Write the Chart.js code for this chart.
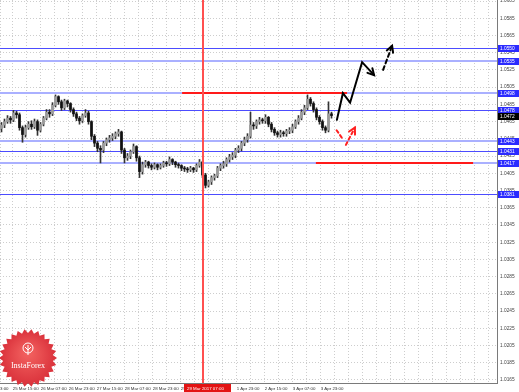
<!DOCTYPE html>
<html>
<head>
<meta charset="utf-8">
<script src="https://cdn.jsdelivr.net/npm/chart.js@4/dist/chart.umd.min.js"></script>
<style>
  html, body { margin: 0; padding: 0; background: #fff; }
</style>
</head>
<body>
<canvas id="grafico-velas" width="519" height="392"></canvas>
<script>
// Velas horarias (una por barra)
const aperturas = [
  1.0457,1.0461,1.0465,1.0469,1.0467,1.0475,1.0473,1.0458,1.0450,1.0458,
  1.0462,1.0459,1.0465,1.0455,1.0462,1.0469,1.0476,1.0474,1.0484,1.0494,
  1.0488,1.0481,1.0489,1.0486,1.0479,1.0474,1.0469,1.0466,1.0472,1.0475,
  1.0465,1.0448,1.0440,1.0434,1.0432,1.0440,1.0444,1.0446,1.0448,1.0451,
  1.0453,1.0432,1.0423,1.0425,1.0430,1.0436,1.0423,1.0407,1.0415,1.0418,
  1.0414,1.0412,1.0415,1.0412,1.0414,1.0417,1.0416,1.0421,1.0418,1.0415,
  1.0414,1.0411,1.0410,1.0409,1.0411,1.0409,1.0414,1.0418,1.0403,1.0391,
  1.0395,1.0400,1.0402,1.0411,1.0414,1.0416,1.0421,1.0424,1.0426,1.0432,
  1.0434,1.0440,1.0444,1.0448,1.0461,1.0460,1.0465,1.0467,1.0466,1.0470,
  1.0462,1.0456,1.0452,1.0450,1.0452,1.0451,1.0454,1.0455,1.0459,1.0465,
  1.0469,1.0476,1.0481,1.0491,1.0486,1.0479,1.0470,1.0465,1.0458,1.0455,
  1.0474
];
const maximos = [
  1.0464,1.0468,1.0472,1.0471,1.0478,1.0477,1.0475,1.0460,1.0461,1.0465,
  1.0466,1.0468,1.0467,1.0464,1.0471,1.0479,1.0479,1.0487,1.0496,1.0495,
  1.0490,1.0491,1.0490,1.0487,1.0481,1.0476,1.0471,1.0474,1.0479,1.0477,
  1.0466,1.0450,1.0442,1.0437,1.0442,1.0446,1.0449,1.0451,1.0453,1.0456,
  1.0454,1.0434,1.0428,1.0432,1.0439,1.0437,1.0425,1.0418,1.0420,1.0419,
  1.0416,1.0417,1.0416,1.0416,1.0419,1.0419,1.0424,1.0422,1.0419,1.0417,
  1.0415,1.0413,1.0412,1.0413,1.0412,1.0416,1.0421,1.0419,1.0405,1.0397,
  1.0402,1.0404,1.0413,1.0416,1.0419,1.0423,1.0427,1.0429,1.0434,1.0437,
  1.0442,1.0447,1.0451,1.0476,1.0464,1.0467,1.0470,1.0469,1.0473,1.0471,
  1.0464,1.0458,1.0454,1.0455,1.0454,1.0456,1.0458,1.0462,1.0467,1.0472,
  1.0479,1.0484,1.0496,1.0493,1.0488,1.0481,1.0472,1.0467,1.0460,1.0488,
  1.0476
];
const minimos = [
  1.0453,1.0458,1.0463,1.0463,1.0465,1.0469,1.0455,1.0441,1.0447,1.0456,
  1.0456,1.0457,1.0449,1.0453,1.0460,1.0467,1.0470,1.0472,1.0482,1.0485,
  1.0478,1.0479,1.0482,1.0476,1.0471,1.0466,1.0462,1.0464,1.0470,1.0462,
  1.0444,1.0436,1.0430,1.0417,1.0429,1.0437,1.0441,1.0443,1.0445,1.0448,
  1.0428,1.0417,1.0420,1.0422,1.0428,1.0419,1.0400,1.0404,1.0412,1.0411,
  1.0409,1.0410,1.0409,1.0410,1.0412,1.0413,1.0414,1.0415,1.0412,1.0411,
  1.0408,1.0407,1.0406,1.0407,1.0406,1.0407,1.0412,1.0400,1.0388,1.0389,
  1.0392,1.0397,1.0400,1.0408,1.0411,1.0413,1.0418,1.0421,1.0423,1.0429,
  1.0431,1.0437,1.0441,1.0446,1.0456,1.0457,1.0462,1.0463,1.0463,1.0459,
  1.0453,1.0449,1.0447,1.0447,1.0448,1.0448,1.0451,1.0452,1.0457,1.0462,
  1.0467,1.0473,1.0479,1.0483,1.0476,1.0467,1.0462,1.0455,1.0452,1.0453,
  1.0469
];
const cierres = [
  1.0461,1.0465,1.0469,1.0467,1.0475,1.0473,1.0458,1.0450,1.0458,1.0462,
  1.0459,1.0465,1.0455,1.0462,1.0469,1.0476,1.0474,1.0484,1.0494,1.0488,
  1.0481,1.0489,1.0486,1.0479,1.0474,1.0469,1.0466,1.0472,1.0475,1.0465,
  1.0448,1.0440,1.0434,1.0432,1.0440,1.0444,1.0446,1.0448,1.0451,1.0453,
  1.0432,1.0423,1.0425,1.0430,1.0436,1.0423,1.0407,1.0415,1.0418,1.0414,
  1.0412,1.0415,1.0412,1.0414,1.0417,1.0416,1.0421,1.0418,1.0415,1.0414,
  1.0411,1.0410,1.0409,1.0411,1.0409,1.0414,1.0418,1.0403,1.0391,1.0395,
  1.0400,1.0402,1.0411,1.0414,1.0416,1.0421,1.0424,1.0426,1.0432,1.0434,
  1.0440,1.0444,1.0448,1.0461,1.0460,1.0465,1.0467,1.0466,1.0470,1.0462,
  1.0456,1.0452,1.0450,1.0452,1.0451,1.0454,1.0455,1.0459,1.0465,1.0469,
  1.0476,1.0481,1.0491,1.0486,1.0479,1.0470,1.0465,1.0458,1.0455,1.0474,
  1.0472
];

// Etiquetas de los ejes
const etiquetaBorde = "3:00";
const etiquetasTiempo = [
  "25 Mar 15:00", "26 Mar 07:00", "26 Mar 23:00", "27 Mar 15:00",
  "28 Mar 07:00", "28 Mar 23:00", "29 Mar 15:00", "", "1 Apr 23:00",
  "2 Apr 15:00", "3 Apr 07:00", "3 Apr 23:00",
];
const marcasPrecio = [
  1.0165, 1.0185, 1.0205, 1.0225, 1.0245, 1.0265, 1.0285, 1.0305,
  1.0325, 1.0345, 1.0365, 1.0385, 1.0405, 1.0425, 1.0445, 1.0465,
  1.0485, 1.0505, 1.0525, 1.0545, 1.0565, 1.0585, 1.0605,
];

// Niveles horizontales (azules) y marcas del análisis
const niveles = [1.0550, 1.0535, 1.0498, 1.0478, 1.0443, 1.0431, 1.0417, 1.0381];
const nivelGrueso = [false, true, true, false, true, false, true, false];
const resistencia = [1.0498, 60.2, 115.2]; // precio, barra inicial, barra final
const soporte = [1.0417, 104.8, 157.2];
const barraVertical = 67.2;
const fechaVertical = "29 Mar 2017 07:00";
const flechaNegra = [[111.8, 1.0467], [113.8, 1.0498], [116.2, 1.0487], [120.2, 1.0534], [124.2, 1.0519]];
const flechaNegraPunteada = [[127.2, 1.0525], [130.2, 1.0553]];
const rojaPunteada1 = [[111.7, 1.0455], [113.9, 1.0444]];
const rojaPunteada2 = [[114.8, 1.0438], [117.8, 1.0458]];

const X_MIN = -0.5;
const X_MAX = 165.17;
const PASO_REJILLA = 14 / 3;
const PRIMERA_MARCA = 3.733;

const fuente = { family: "Liberation Sans", size: 4.4 };
const fuentePrecio = { family: "Liberation Sans", size: 4.8 };

// Dibuja una polilínea con punta de flecha opcional
const trazarFlecha = (ctx, puntos, color, guiones, conPunta) => {
  ctx.save();
  ctx.strokeStyle = color;
  ctx.lineWidth = 2;
  ctx.lineCap = "round";
  ctx.setLineDash(guiones);
  ctx.beginPath();
  puntos.forEach(([x, y], i) => (i ? ctx.lineTo(x, y) : ctx.moveTo(x, y)));
  ctx.stroke();
  if (conPunta) {
    ctx.setLineDash([]);
    const [x1, y1] = puntos[puntos.length - 2];
    const [x2, y2] = puntos[puntos.length - 1];
    const ang = Math.atan2(y2 - y1, x2 - x1);
    ctx.beginPath();
    ctx.moveTo(x2 - 7 * Math.cos(ang - 0.5), y2 - 7 * Math.sin(ang - 0.5));
    ctx.lineTo(x2, y2);
    ctx.lineTo(x2 - 7 * Math.cos(ang + 0.5), y2 - 7 * Math.sin(ang + 0.5));
    ctx.stroke();
  }
  ctx.restore();
};

const etiquetaEje = (ctx, a, y, texto, fondo) => {
  ctx.fillStyle = fondo;
  ctx.fillRect(a.right + 1, Math.round(y) - 3, 21, 7);
  ctx.fillStyle = "#fff";
  ctx.font = `${fuentePrecio.size}px ${fuentePrecio.family}`;
  ctx.textAlign = "left";
  ctx.textBaseline = "middle";
  ctx.fillText(texto, a.right + 3, Math.round(y) + 0.5);
};

const dibujarLogo = (ctx) => {
  const cx = 28, cy = 358, R = 29, r = 25, n = 26;
  ctx.save();
  ctx.beginPath();
  for (let k = 0; k < n * 2; k++) {
    const rad = k % 2 ? r : R;
    const ang = (k * Math.PI) / n;
    ctx.lineTo(cx + rad * Math.cos(ang), cy + rad * Math.sin(ang));
  }
  ctx.closePath();
  const grad = ctx.createRadialGradient(cx, cy - 6, 2, cx, cy, R);
  grad.addColorStop(0, "#f2615f");
  grad.addColorStop(1, "#d9303a");
  ctx.fillStyle = grad;
  ctx.fill();
  // emblema
  ctx.strokeStyle = "#fff";
  ctx.lineWidth = 1;
  ctx.beginPath();
  ctx.arc(cx, cy - 10, 5, 0, Math.PI * 2);
  ctx.stroke();
  ctx.beginPath();
  ctx.moveTo(cx, cy - 13); ctx.lineTo(cx, cy - 3);
  ctx.moveTo(cx - 3, cy - 11); ctx.lineTo(cx, cy - 8); ctx.lineTo(cx + 3, cy - 11);
  ctx.stroke();
  ctx.fillStyle = "#fff";
  ctx.font = "8px 'Liberation Serif'";
  ctx.textAlign = "center";
  ctx.textBaseline = "alphabetic";
  ctx.fillText("InstaForex", cx, cy + 10);
  ctx.restore();
};

// Plugin para niveles, flechas y etiquetas del eje
const anotaciones = {
  id: "anotaciones",
  beforeDatasetsDraw(chart) {
    const { ctx, chartArea: a, scales: { x, y } } = chart;
    ctx.save();
    ctx.setLineDash([]);
    niveles.forEach((v, i) => {
      const grueso = nivelGrueso[i];
      const yy = Math.round(y.getPixelForValue(v)) + (grueso ? 0 : 0.5);
      ctx.strokeStyle = grueso ? "#aab0ff" : "#4c4cff";
      ctx.lineWidth = grueso ? 2 : 1;
      ctx.beginPath();
      ctx.moveTo(a.left, yy);
      ctx.lineTo(a.right, yy);
      ctx.stroke();
    });
    ctx.strokeStyle = "#ff1a1a";
    ctx.lineWidth = 2;
    [resistencia, soporte].forEach(([precio, desde, hasta]) => {
      const yy = Math.round(y.getPixelForValue(precio));
      ctx.beginPath();
      ctx.moveTo(x.getPixelForValue(desde), yy);
      ctx.lineTo(x.getPixelForValue(hasta), yy);
      ctx.stroke();
    });
    ctx.restore();
  },
  afterDatasetsDraw(chart) {
    const { ctx, chartArea: a, scales: { x, y } } = chart;
    // línea vertical roja
    const xv = Math.round(x.getPixelForValue(barraVertical));
    ctx.save();
    ctx.setLineDash([]);
    ctx.strokeStyle = "#ff5050";
    ctx.lineWidth = 2;
    ctx.beginPath();
    ctx.moveTo(xv, a.top);
    ctx.lineTo(xv, a.bottom);
    ctx.stroke();
    ctx.restore();

    const aPix = (pts) => pts.map(([b, p]) => [x.getPixelForValue(b), y.getPixelForValue(p)]);
    trazarFlecha(ctx, aPix(flechaNegra), "#000", [], true);
    trazarFlecha(ctx, aPix(flechaNegraPunteada), "#000", [4, 3], true);
    trazarFlecha(ctx, aPix(rojaPunteada1), "#ff2020", [3, 3], false);
    trazarFlecha(ctx, aPix(rojaPunteada2), "#ff2020", [3, 3], true);
  },
  afterDraw(chart) {
    const { ctx, chartArea: a, scales: { x, y } } = chart;
    ctx.save();
    niveles.forEach((v) => etiquetaEje(ctx, a, y.getPixelForValue(v), v.toFixed(4), "#2b2bff"));
    const ultimo = cierres[cierres.length - 1];
    etiquetaEje(ctx, a, y.getPixelForValue(ultimo), ultimo.toFixed(4), "#000");
    // fecha de la línea vertical
    const xv = Math.round(x.getPixelForValue(barraVertical));
    ctx.fillStyle = "#e31414";
    ctx.fillRect(xv - 19, a.bottom + 1, 47, 8);
    ctx.fillStyle = "#fff";
    ctx.font = `${fuente.size}px ${fuente.family}`;
    ctx.textAlign = "left";
    ctx.textBaseline = "middle";
    ctx.fillText(fechaVertical, xv - 16, a.bottom + 5.5);
    dibujarLogo(ctx);
    ctx.restore();
  },
};

const cuerpos = cierres.map((c, i) => ({ x: i, y: [aperturas[i], c] }));
const mechas = cierres.map((c, i) => ({ x: i, y: [minimos[i], maximos[i]] }));
const colorCuerpo = cierres.map((c, i) => (c >= aperturas[i] ? "#9a9a9a" : "#111"));

const ctx = document.getElementById("grafico-velas").getContext("2d");

new Chart(ctx, {
  type: "bar",
  data: {
    datasets: [
      {
        label: "Cuerpos",
        data: cuerpos,
        backgroundColor: colorCuerpo,
        barThickness: 2,
        minBarLength: 1,
        grouped: false,
        order: 0,
      },
      {
        label: "Mechas",
        data: mechas,
        backgroundColor: "#333",
        barThickness: 1,
        grouped: false,
        order: 1,
      },
    ],
  },
  plugins: [anotaciones],
  options: {
    responsive: false,
    animation: false,
    events: [],
    devicePixelRatio: 1,
    layout: { padding: 0 },
    plugins: { legend: { display: false }, tooltip: { enabled: false } },
    scales: {
      x: {
        type: "linear",
        min: X_MIN,
        max: X_MAX,
        offset: false,
        grid: { offset: false, color: "#cdcdcd", drawTicks: false },
        border: { display: true, color: "#7a7a7a", width: 1, dash: [1, 2] },
        afterBuildTicks: (escala) => {
          const marcas = [{ value: X_MIN }];
          for (let k = 1; PRIMERA_MARCA + (k - 1) * PASO_REJILLA < X_MAX; k++) {
            marcas.push({ value: PRIMERA_MARCA + (k - 1) * PASO_REJILLA });
          }
          escala.ticks = marcas;
        },
        afterFit: (escala) => {
          escala.height = 9;
          escala.paddingLeft = 0;
          escala.paddingRight = 0;
        },
        ticks: {
          autoSkip: false,
          maxRotation: 0,
          align: "start",
          padding: 3,
          color: "#333",
          font: fuente,
          callback: (valor, i) => {
            if (i === 0) return etiquetaBorde;
            if (i % 2 === 1) return etiquetasTiempo[(i - 1) / 2] || "";
            return "";
          },
        },
      },
      y: {
        position: "right",
        min: 1.01615,
        max: 1.06062,
        beginAtZero: false,
        grid: { color: "#cdcdcd", drawTicks: false },
        border: { display: true, color: "#7a7a7a", width: 1, dash: [1, 2] },
        afterBuildTicks: (escala) => {
          escala.ticks = marcasPrecio.map((v) => ({ value: v }));
        },
        afterFit: (escala) => {
          escala.width = 22;
          escala.paddingTop = 0;
          escala.paddingBottom = 0;
        },
        ticks: {
          padding: 3,
          color: "#444",
          font: fuentePrecio,
          callback: (valor) => valor.toFixed(4),
        },
      },
    },
  },
});
</script>
</body>
</html>
